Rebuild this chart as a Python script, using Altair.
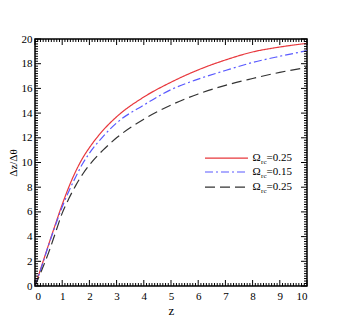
import altair as alt
import pandas as pd

z_vals = [0, 0.25, 0.5, 0.75, 1, 1.25, 1.5, 1.75, 2, 2.5, 3, 4, 5, 6, 7, 8, 9, 10]
red_vals = [0, 1.67, 3.35, 5.0, 6.6, 8.05, 9.3, 10.35, 11.2, 12.6, 13.7, 15.3, 16.5, 17.5, 18.3, 18.95, 19.35, 19.65]
blue_vals = [0, 1.6, 3.3, 4.9, 6.4, 7.7, 8.85, 9.9, 10.75, 12.1, 13.2, 14.65, 15.9, 16.75, 17.45, 18.1, 18.6, 19.05]
black_vals = [0, 1.3, 2.7, 4.3, 5.9, 7.1, 8.15, 9.05, 9.8, 11.0, 12.0, 13.5, 14.65, 15.55, 16.25, 16.8, 17.3, 17.7]

series_ids = ["s1", "s2", "s3"]
series_labels = ["=0.25", "=0.15", "=0.25"]
series_colors = ["#e8383d", "#5a5aff", "#333333"]
series_dash = [[1, 0], [8, 3, 2, 3], [10, 5]]

x_major = list(range(0, 11))
y_major = list(range(0, 21, 2))
x_minor = [round(i * 0.1, 2) for i in range(0, 101) if i % 10 != 0]
y_minor = [round(i * 0.2, 2) for i in range(0, 101) if i % 10 != 0]

W, H = 272, 247
FONT = "Liberation Serif"

rows = []
for sid, vals in zip(series_ids, [red_vals, blue_vals, black_vals]):
    for z, v in zip(z_vals, vals):
        rows.append({"z": z, "v": v, "s": sid})
df = pd.DataFrame(rows)

xs = alt.Scale(domain=[0, 10], nice=False)
ys = alt.Scale(domain=[0, 20], nice=False)

X_AXIS = alt.Axis(values=x_major, title="z", ticks=False, domain=False, grid=False,
                  labelOverlap=False, labelPadding=4, titlePadding=3,
                  labelFont=FONT, labelFontSize=11, labelColor="black",
                  titleFont=FONT, titleFontSize=13, titleFontWeight="normal",
                  titleColor="black", format="d")
Y_AXIS = alt.Axis(values=y_major, title="Δz/Δθ", ticks=False, domain=False, grid=False,
                  labelOverlap=False, labelPadding=3, titlePadding=3,
                  labelFont=FONT, labelFontSize=11, labelColor="black",
                  titleFont=FONT, titleFontSize=11, titleFontWeight="normal",
                  titleColor="black", format="d")

def X(f):
    return alt.X(f, scale=xs, axis=X_AXIS, title="z")

def Y(f):
    return alt.Y(f, scale=ys, axis=Y_AXIS, title="Δz/Δθ")

color_enc = alt.Color("s:N", scale=alt.Scale(domain=series_ids, range=series_colors), legend=None)
dash_enc = alt.StrokeDash("s:N", scale=alt.Scale(domain=series_ids, range=series_dash), legend=None)

lines = alt.Chart(df).mark_line(strokeWidth=1.2, interpolate="monotone").encode(
    x=X("z:Q"), y=Y("v:Q"), color=color_enc, strokeDash=dash_enc)

xmaj = pd.DataFrame({"t": x_major})
xmin = pd.DataFrame({"t": x_minor})
ymaj = pd.DataFrame({"t": y_major})
ymin = pd.DataFrame({"t": y_minor})

def xt(d, ln):
    b = alt.Chart(d).mark_rule(color="black", strokeWidth=1).encode(
        x=X("t:Q"), y=alt.value(H), y2=alt.value(H - ln))
    t = alt.Chart(d).mark_rule(color="black", strokeWidth=1).encode(
        x=X("t:Q"), y=alt.value(0), y2=alt.value(ln))
    return b + t

def yt(d, ln):
    l = alt.Chart(d).mark_rule(color="black", strokeWidth=1).encode(
        y=Y("t:Q"), x=alt.value(0), x2=alt.value(ln))
    r = alt.Chart(d).mark_rule(color="black", strokeWidth=1).encode(
        y=Y("t:Q"), x=alt.value(W), x2=alt.value(W - ln))
    return l + r

ticks = xt(xmaj, 6) + xt(xmin, 3) + yt(ymaj, 6) + yt(ymin, 3)

# legend
leg_y = [10.36, 9.23, 8.0]
leg = pd.DataFrame({"s": series_ids, "y": leg_y, "x1": [6.25] * 3, "x2": [7.83] * 3,
                    "tx": [8.0] * 3, "lab": series_labels})
leg_lines = alt.Chart(leg).mark_rule(strokeWidth=1.2).encode(
    x=X("x1:Q"), x2="x2:Q", y=Y("y:Q"), color=color_enc, strokeDash=dash_enc)
leg_omega = alt.Chart(leg).mark_text(align="left", baseline="middle", font=FONT, fontSize=11,
                                     color="black").encode(
    x=X("tx:Q"), y=Y("y:Q"), text=alt.value("Ω"))
leg_sub = alt.Chart(leg).mark_text(align="left", baseline="middle", font=FONT, fontSize=7,
                                   color="black", dx=8.5, dy=4).encode(
    x=X("tx:Q"), y=Y("y:Q"), text=alt.value("rc"))
leg_txt = alt.Chart(leg).mark_text(align="left", baseline="middle", font=FONT, fontSize=11,
                                   color="black", dx=14).encode(
    x=X("tx:Q"), y=Y("y:Q"), text="lab:N")

chart = alt.layer(lines, ticks, leg_lines, leg_omega, leg_sub, leg_txt).properties(
    width=W, height=H,
    background="white",
    autosize=alt.AutoSizeParams(type="none"),
    padding={"left": 27, "top": 31, "right": 20, "bottom": 30},
).configure_view(stroke="black", strokeWidth=1.5)

chart.save("out.html", embed_options={"renderer": "svg", "actions": False})
